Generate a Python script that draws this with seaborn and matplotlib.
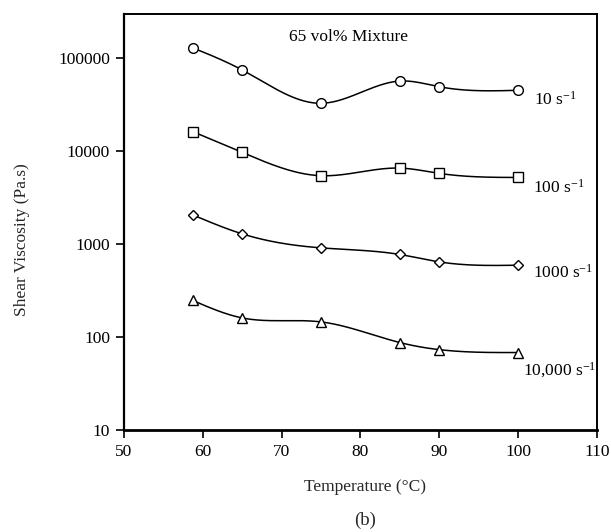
import numpy as np
import pandas as pd
import matplotlib
matplotlib.use("Agg")
import matplotlib.pyplot as plt
import seaborn as sns

# ---- data ----
temperature = [58.7, 65, 75, 85, 90, 100]
visc_10 = [128000, 73800, 32400, 56200, 48800, 44700]
visc_100 = [16100, 9600, 5400, 6520, 5720, 5170]
visc_1000 = [2050, 1280, 906, 769, 640, 590]
visc_10000 = [247, 160, 145, 87, 73, 68]
series_names = ["10 s$^{-1}$", "100 s$^{-1}$", "1000 s$^{-1}$", "10,000 s$^{-1}$"]
series_markers = ["o", "s", "D", "^"]
x_ticks = [50, 60, 70, 80, 90, 100, 110]
y_ticks = [10, 100, 1000, 10000, 100000]
y_tick_labels = ["10", "100", "1000", "10000", "100000"]

sns.set_theme(style="ticks")
plt.rcParams["font.family"] = ["Liberation Serif", "DejaVu Serif"]
plt.rcParams["mathtext.fontset"] = "custom"
plt.rcParams["mathtext.rm"] = "Liberation Serif"
plt.rcParams["mathtext.it"] = "Liberation Serif:italic"


def natural_spline(x, y, xs):
    x = np.asarray(x, float)
    y = np.asarray(y, float)
    n = len(x)
    h = np.diff(x)
    A = np.zeros((n, n))
    b = np.zeros(n)
    A[0, 0] = 1
    A[-1, -1] = 1
    for i in range(1, n - 1):
        A[i, i - 1] = h[i - 1]
        A[i, i] = 2 * (h[i - 1] + h[i])
        A[i, i + 1] = h[i]
        b[i] = 3 * ((y[i + 1] - y[i]) / h[i] - (y[i] - y[i - 1]) / h[i - 1])
    c = np.linalg.solve(A, b)
    out = np.empty_like(xs)
    for k, xv in enumerate(xs):
        i = min(max(np.searchsorted(x, xv) - 1, 0), n - 2)
        dx = xv - x[i]
        bi = (y[i + 1] - y[i]) / h[i] - h[i] * (2 * c[i] + c[i + 1]) / 3
        di = (c[i + 1] - c[i]) / (3 * h[i])
        out[k] = y[i] + bi * dx + c[i] * dx ** 2 + di * dx ** 3
    return out


fig = plt.figure(figsize=(6.11, 5.32), dpi=100)
ax = fig.add_axes([124 / 611, 1 - 430 / 532, (597 - 124) / 611, (430 - 14) / 532])

all_series = [visc_10, visc_100, visc_1000, visc_10000]
xs = np.linspace(min(temperature), max(temperature), 300)
for vals, name, mk in zip(all_series, series_names, series_markers):
    smooth = 10 ** natural_spline(temperature, np.log10(vals), xs)
    sns.lineplot(x=xs, y=smooth, ax=ax, color="black", linewidth=1.1, legend=False)
    msize = {"o": 7, "s": 6.5, "D": 4.8, "^": 7}[mk]
    ax.plot(temperature, vals, linestyle="none", marker=mk, markersize=msize,
            markerfacecolor="white", markeredgecolor="black", markeredgewidth=1.0, zorder=3)

ax.set_yscale("log")
ax.set_xlim(50, 110)
ax.set_ylim(10, 10 ** 5.47)
ax.set_xticks(x_ticks)
ax.set_xticklabels([str(t) for t in x_ticks], fontsize=12.5)
ax.set_yticks(y_ticks)
ax.set_yticklabels(y_tick_labels, fontsize=12.5)
ax.yaxis.set_minor_locator(matplotlib.ticker.NullLocator())
ax.tick_params(axis="both", direction="out", length=6, width=1.2, colors="black", pad=4)
for side in ["left", "right", "top", "bottom"]:
    ax.spines[side].set_visible(True)
    ax.spines[side].set_color("black")
ax.spines["bottom"].set_linewidth(2.0)
ax.spines["left"].set_linewidth(1.6)
ax.spines["right"].set_linewidth(1.4)
ax.spines["top"].set_linewidth(1.4)
ax.set_xlabel("")
ax.set_ylabel("")

# series labels
label_pos = [(102.0, 3.56e4), (101.9, 4030), (101.9, 490), (100.6, 44.3)]
for (lx, ly), name in zip(label_pos, series_names):
    ax.text(lx, ly, name, fontsize=12.5, ha="left", va="center", color="black")

ax.text(0.474, 0.945, "65 vol% Mixture", transform=ax.transAxes, fontsize=12.5,
        ha="center", va="center", color="black")

fig.text(365 / 611, 1 - 487 / 532, "Temperature (°C)", fontsize=12.5, ha="center", va="center")
fig.text(365 / 611, 1 - 520 / 532, "(b)", fontsize=13.5, ha="center", va="center")
fig.text(22 / 611, 1 - 240 / 532, "Shear Viscosity (Pa.s)", fontsize=12.5, ha="center",
         va="center", rotation=90)

fig.savefig("out.png", dpi=100, facecolor="white")
